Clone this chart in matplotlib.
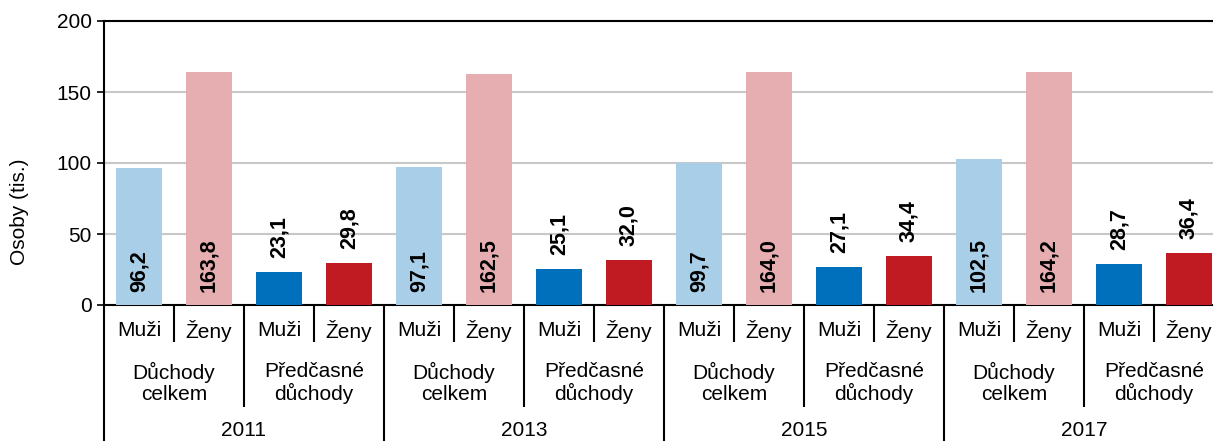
import matplotlib.pyplot as plt

plt.rcParams['font.family'] = ['Liberation Sans', 'DejaVu Sans']

# data
years = ["2011", "2013", "2015", "2017"]
groups = ["Důchody\ncelkem", "Předčasné\ndůchody"]
sexes = ["Muži", "Ženy"]
values = [96.2, 163.8, 23.1, 29.8,
          97.1, 162.5, 25.1, 32.0,
          99.7, 164.0, 27.1, 34.4,
          102.5, 164.2, 28.7, 36.4]
colors = ["#a9cee8", "#e7aeb2", "#0070bd", "#c01b23"]

W, H = 1213, 441
fig = plt.figure(figsize=(W / 100, H / 100), dpi=100)
# plot area in pixels: left 104, top 21, zero line 305, slot width 70
ax = fig.add_axes([104 / W, (H - 305) / H, 1120 / W, 284 / H])

n = len(values)
xs = list(range(n))
bar_colors = [colors[i % 4] for i in xs]
ax.bar(xs, values, width=0.67, color=bar_colors, zorder=3)

ax.set_xlim(-0.5, n - 0.5)
ax.set_ylim(0, 200)
ax.set_yticks([0, 50, 100, 150, 200])
ax.tick_params(axis='y', labelsize=15, length=5, width=1.2, pad=4)
ax.set_xticks([])
ax.grid(axis='y', color='#c8c8c8', linewidth=1.5, zorder=0)
for s in ['left', 'bottom', 'top']:
    ax.spines[s].set_linewidth(1.5)
ax.spines['right'].set_visible(False)

# value labels
for i, v in enumerate(values):
    lab = f"{v:.1f}".replace(".", ",")
    if i % 4 < 2:
        ax.text(i, 9.5, lab, rotation=90, ha='center', va='bottom',
                fontsize=15.5, fontweight='bold', zorder=4)
    else:
        ax.annotate(lab, xy=(i, v), xytext=(0, 10), textcoords='offset points',
                    rotation=90, ha='center', va='bottom',
                    fontsize=15.5, fontweight='bold', zorder=4)

# multi-level category axis
tr = ax.get_xaxis_transform()


def fy(py):
    return (305 - py) / 284


for i in xs:
    ax.text(i, fy(331), sexes[i % 2], transform=tr, ha='center', va='center',
            fontsize=15, clip_on=False)
for g in range(n // 2):
    ax.text(2 * g + 0.5, fy(383), groups[g % 2], transform=tr, ha='center',
            va='center', fontsize=15, linespacing=1.1, clip_on=False)
for y, yr in enumerate(years):
    ax.text(4 * y + 1.5, fy(431), yr, transform=tr, ha='center', va='center',
            fontsize=15, clip_on=False)

for b in range(n + 1):
    x = b - 0.5
    if b % 4 == 0:
        bottom = fy(H + 5)
    elif b % 2 == 0:
        bottom = fy(407)
    else:
        bottom = fy(342)
    ax.plot([x, x], [0, bottom], transform=tr, color='black', linewidth=1.5,
            clip_on=False, solid_capstyle='butt')

fig.text(20 / W, 1 - 212 / H, "Osoby (tis.)", rotation=90, ha='center',
         va='center', fontsize=15)

fig.savefig("out.png", dpi=100)
